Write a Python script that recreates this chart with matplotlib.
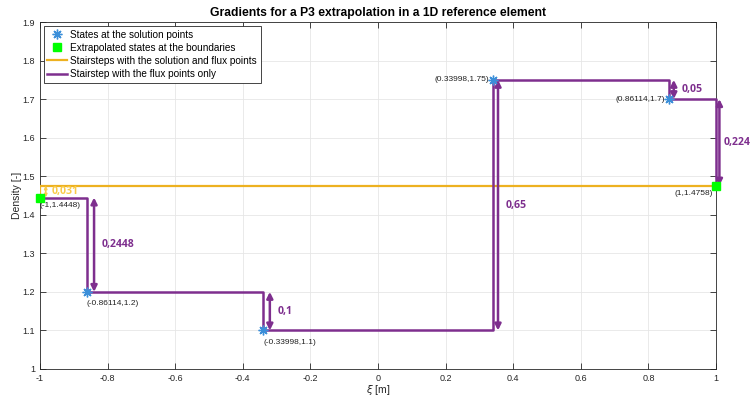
import matplotlib
matplotlib.use("Agg")
import matplotlib.pyplot as plt
import numpy as np

# data
sol_x = [-0.86114, -0.33998, 0.33998, 0.86114]
sol_y = [1.2, 1.1, 1.75, 1.7]
bnd_x = [-1, 1]
bnd_y = [1.4448, 1.4758]
orange_x = [-1, -1, 1]
orange_y = [1.4448, 1.4758, 1.4758]
flux_x = [-1, -0.86114, -0.86114, -0.33998, -0.33998, 0.33998, 0.33998, 0.86114, 0.86114, 1, 1]
flux_y = [1.4448, 1.4448, 1.2, 1.2, 1.1, 1.1, 1.75, 1.75, 1.7, 1.7, 1.4758]
pt_labels = ["(-0.86114,1.2)", "(-0.33998,1.1)", "(0.33998,1.75)", "(0.86114,1.7)"]
bnd_labels = ["(-1,1.4448)", "(1,1.4758)"]
jump_x = [-0.84, -0.32, 0.355, 0.875, 1.01]
jump_lo = [1.2, 1.1, 1.1, 1.7, 1.4758]
jump_hi = [1.4448, 1.2, 1.75, 1.75, 1.7]
jump_txt = ["0,2448", "0,1", "0,65", "0,05", "0,224"]
jump_dx = [0.022, 0.022, 0.022, 0.022, 0.012]

purple = "#7E2F8E"
orange = "#EDB120"

plt.rcParams['font.family'] = ['Liberation Sans', 'DejaVu Sans']
fig = plt.figure(figsize=(7.5, 3.96), dpi=100)
ax = fig.add_axes([0.0533, 0.0682, 0.9014, 0.8762])

ax.plot(sol_x, sol_y, linestyle='none', marker=(8, 2, 0), color='#3B8FD9', markersize=7,
        markeredgewidth=1.0, label='States at the solution points', zorder=5)
ax.plot(bnd_x, bnd_y, linestyle='none', marker='s', color='#00FF00', markersize=5.5,
        label='Extrapolated states at the boundaries', zorder=5, clip_on=False)
ax.plot(orange_x, orange_y, color=orange, lw=1.6, label='Stairsteps with the solution and flux points', zorder=3)
ax.plot(flux_x, flux_y, color=purple, lw=1.8, label='Stairstep with the flux points only', zorder=4, clip_on=False)

# jump arrows
for xj, lo, hi, t, dx in zip(jump_x, jump_lo, jump_hi, jump_txt, jump_dx):
    ax.annotate('', xy=(xj, lo), xytext=(xj, hi),
                arrowprops=dict(arrowstyle='<|-|>', color=purple, lw=1.8,
                                mutation_scale=9, shrinkA=0, shrinkB=0),
                annotation_clip=False)
    ax.text(xj + dx, (lo + hi) / 2, t, color=purple, fontsize=7.6,
            fontweight='bold', family='Open Sans', va='center', ha='left', clip_on=False)

# orange small jump
ax.annotate('', xy=(-0.983, 1.4448), xytext=(-0.983, 1.4758),
            arrowprops=dict(arrowstyle='<|-|>', color='#F9CB4A', lw=1.2,
                            mutation_scale=4, shrinkA=0, shrinkB=0))
ax.text(-0.967, 1.461, '0,031', color='#F9CB4A', fontsize=7.6, fontweight='bold',
        family='Open Sans', va='center', ha='left')

# point labels
offs = [(0.0, -0.022, 'left', 'top'), (0.0, -0.022, 'left', 'top'),
        (-0.012, 0.0, 'right', 'center'), (-0.012, 0.0, 'right', 'center')]
for x, y, t, (dx, dy, ha, va) in zip(sol_x, sol_y, pt_labels, offs):
    ax.text(x + dx, y + dy, t, fontsize=6, ha=ha, va=va, color='#222222')
ax.text(-1.0, 1.4448 - 0.012, bnd_labels[0], fontsize=6, ha='left', va='top', color='#222222')
ax.text(0.99, 1.4758 - 0.012, bnd_labels[1], fontsize=6, ha='right', va='top', color='#222222')

ax.set_xlim(-1, 1)
ax.set_ylim(1, 1.9)
ax.set_xticks(np.arange(-1, 1.01, 0.2))
ax.set_xticklabels(['-1', '-0.8', '-0.6', '-0.4', '-0.2', '0', '0.2', '0.4', '0.6', '0.8', '1'])
ax.set_yticks(np.arange(1, 1.91, 0.1))
ax.set_yticklabels(['1', '1.1', '1.2', '1.3', '1.4', '1.5', '1.6', '1.7', '1.8', '1.9'])
ax.tick_params(labelsize=6.5, colors='#262626', direction='in', length=4, top=True, right=True, width=0.6)
ax.grid(True, color='#E6E6E6', lw=0.6)
ax.set_axisbelow(True)
for s in ax.spines.values():
    s.set_color('#262626')
    s.set_linewidth(0.6)

ax.set_xlabel(r'$\xi$ [m]', fontsize=7.5, color='#262626', labelpad=0)
ax.set_ylabel('Density [-]', fontsize=7.5, color='#262626', labelpad=0)
ax.set_title('Gradients for a P3 extrapolation in a 1D reference element', fontsize=8.7, fontweight='bold', pad=4)

leg = ax.legend(loc='upper left', fontsize=7.2, frameon=True, fancybox=False,
                edgecolor='#262626', framealpha=1, borderpad=0.35, labelspacing=0.32,
                handlelength=2.0, handletextpad=0.3, borderaxespad=0.4)
leg.get_frame().set_linewidth(0.6)

fig.savefig('out.png', dpi=100)
